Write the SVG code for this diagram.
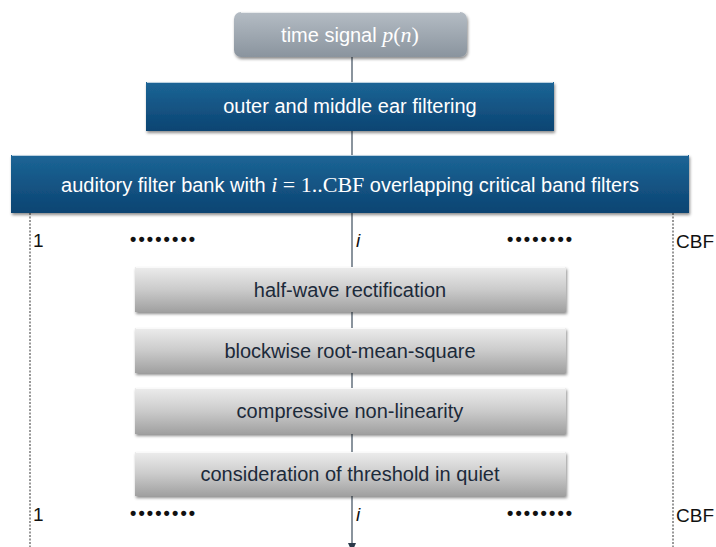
<svg xmlns="http://www.w3.org/2000/svg" width="716" height="547" viewBox="0 0 716 547">
<defs>
<linearGradient id="gTop" x1="0" y1="0" x2="0" y2="1">
<stop offset="0" stop-color="#b4bcc4"/><stop offset="1" stop-color="#8a949e"/>
</linearGradient>
<linearGradient id="gBlue" x1="0" y1="0" x2="0" y2="1">
<stop offset="0" stop-color="#1c6596"/><stop offset="1" stop-color="#0c4472"/>
</linearGradient>
<linearGradient id="gGray" x1="0" y1="0" x2="0" y2="1">
<stop offset="0" stop-color="#ececec"/><stop offset="0.5" stop-color="#cbcbcb"/><stop offset="1" stop-color="#a0a0a0"/>
</linearGradient>
<filter id="sh" x="-5%" y="-20%" width="110%" height="150%">
<feDropShadow dx="1" dy="2" stdDeviation="1.5" flood-color="#000" flood-opacity="0.45"/>
</filter>
<marker id="arr" markerWidth="10" markerHeight="8" refX="9" refY="4" orient="auto" markerUnits="userSpaceOnUse">
<path d="M0,0 L9,4 L0,8 z" fill="#2a3a4a"/>
</marker>
<style>
.t{font-family:"Liberation Sans",Arial,sans-serif;font-size:20px;text-anchor:middle}
.w{fill:#ffffff}
.d{fill:#1c2a3a}
.m{font-family:"Liberation Serif","Times New Roman",serif}
.lbl{font-family:"Liberation Sans",Arial,sans-serif;font-size:19px;fill:#111}
.dots{font-family:"Liberation Sans",Arial,sans-serif;font-size:18px;font-weight:bold;fill:#111;letter-spacing:2.1px}
.conn{stroke:#3c4c5c;stroke-width:1.2;fill:none}
.dash{stroke:#333;stroke-width:1;stroke-dasharray:2,1.5;fill:none}
.bevW{stroke:#ffffff;stroke-opacity:0.7;stroke-width:1;fill:none}
</style>
</defs>
<rect width="716" height="547" fill="#ffffff"/>
<g id="connectors">
<line class="conn" x1="352" y1="57" x2="352" y2="82"/>
<line class="conn" x1="352" y1="131" x2="352" y2="155"/>
<line class="conn" x1="352" y1="213" x2="352" y2="267"/>
<line class="conn" x1="352" y1="312" x2="352" y2="328"/>
<line class="conn" x1="352" y1="373" x2="352" y2="388"/>
<line class="conn" x1="352" y1="434" x2="352" y2="452"/>
<line class="conn" x1="352" y1="496" x2="352" y2="552" marker-end="url(#arr)"/>
<line class="dash" x1="30" y1="213" x2="30" y2="547"/>
<line class="dash" x1="673" y1="213" x2="673" y2="547"/>
</g>
<g id="n_time">
<rect x="234" y="12" width="233" height="45" rx="7" fill="url(#gTop)" filter="url(#sh)"/>
<path class="bevW" d="M241,12.5 H460"/>
<text class="t w" x="350" y="42">time signal <tspan class="m" font-style="italic" font-size="22">p</tspan><tspan class="m" font-size="22">(</tspan><tspan class="m" font-style="italic" font-size="22">n</tspan><tspan class="m" font-size="22">)</tspan></text>
</g>
<g id="n_outer">
<rect x="146" y="82" width="408" height="49" fill="url(#gBlue)" filter="url(#sh)"/>
<path class="bevW" stroke-opacity="0.35" d="M147,82.5 H553"/>
<text class="t w" x="350" y="113">outer and middle ear filtering</text>
</g>
<g id="n_bank">
<rect x="11" y="155" width="678" height="58" fill="url(#gBlue)" filter="url(#sh)"/>
<path class="bevW" stroke-opacity="0.35" d="M12,155.5 H688"/>
<text class="t w" x="350" y="192">auditory filter bank with <tspan class="m" font-style="italic" font-size="22">i</tspan><tspan class="m" font-size="22"> = 1..CBF</tspan> overlapping critical band filters</text>
</g>
<g id="row1">
<text class="lbl" x="33" y="247">1</text>
<text class="dots" x="130" y="245">••••••••</text>
<text class="lbl" x="356" y="247" font-style="italic">i</text>
<text class="dots" x="507" y="245">••••••••</text>
<text class="lbl" x="676" y="248">CBF</text>
</g>
<g id="n_half">
<rect x="135" y="267" width="431" height="45" fill="url(#gGray)" filter="url(#sh)"/>
<path class="bevW" d="M136,267.5 H565"/>
<text class="t d" x="350" y="297">half-wave rectification</text>
</g>
<g id="n_rms">
<rect x="135" y="328" width="431" height="45" fill="url(#gGray)" filter="url(#sh)"/>
<path class="bevW" d="M136,328.5 H565"/>
<text class="t d" x="350" y="358">blockwise root-mean-square</text>
</g>
<g id="n_comp">
<rect x="135" y="388" width="431" height="46" fill="url(#gGray)" filter="url(#sh)"/>
<path class="bevW" d="M136,388.5 H565"/>
<text class="t d" x="350" y="418">compressive non-linearity</text>
</g>
<g id="n_thr">
<rect x="135" y="452" width="431" height="44" fill="url(#gGray)" filter="url(#sh)"/>
<path class="bevW" d="M136,452.5 H565"/>
<text class="t d" x="350" y="481">consideration of threshold in quiet</text>
</g>
<g id="row2">
<text class="lbl" x="33" y="521">1</text>
<text class="dots" x="130" y="519">••••••••</text>
<text class="lbl" x="356" y="521" font-style="italic">i</text>
<text class="dots" x="507" y="519">••••••••</text>
<text class="lbl" x="676" y="522">CBF</text>
</g>
</svg>
